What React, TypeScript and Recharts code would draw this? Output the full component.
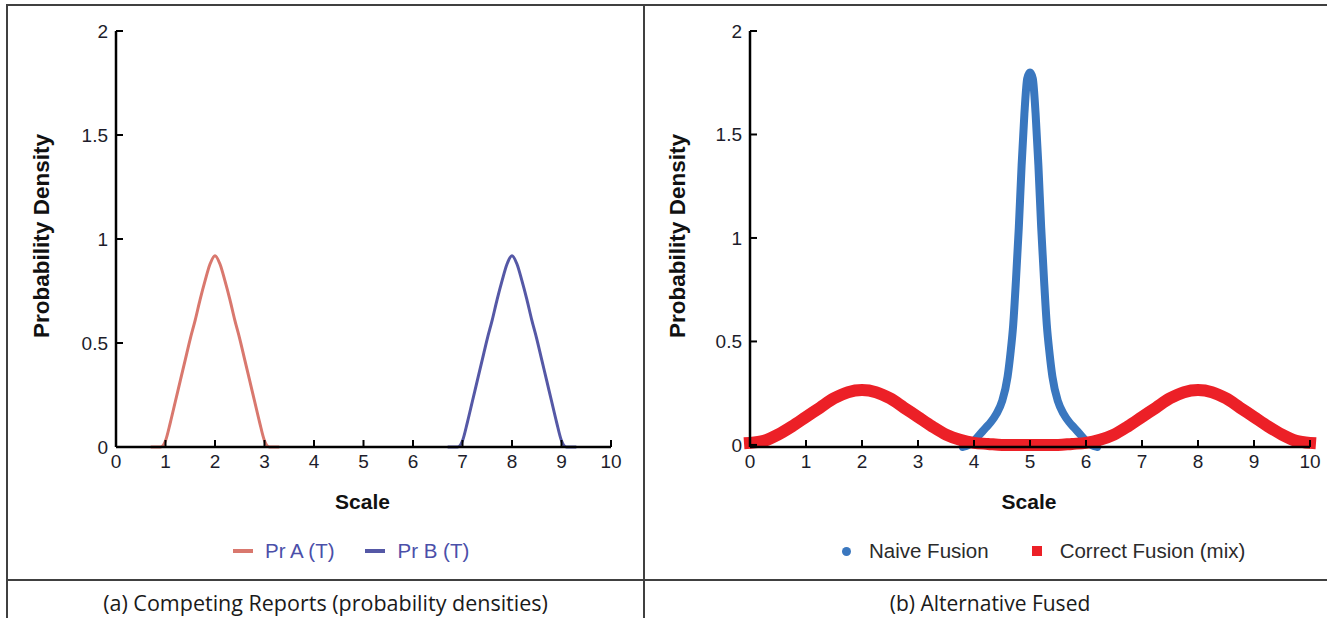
import { LineChart, Line, XAxis, YAxis, Legend } from "recharts";

const FONT = '"Liberation Sans", Arial, Helvetica, sans-serif';
const CAPTION_FONT = '"Open Sans", "Noto Sans", sans-serif';
const BORDER = "#404040";
const TICK_COLOR = "#1d1d2b";

const scaleTicks = [0, 1, 2, 3, 4, 5, 6, 7, 8, 9, 10];
const densityTicks = [0, 0.5, 1, 1.5, 2];

// (a) competing reports
const prAScale = [0.7, 0.8, 0.9, 1.0, 1.1, 1.2, 1.3, 1.4, 1.5, 1.6, 1.7, 1.8, 1.9, 2.0, 2.1, 2.2, 2.3, 2.4, 2.5, 2.6, 2.7, 2.8, 2.9, 3.0, 3.1, 3.2, 3.3];
const prADensity = [0, 0, 0, 0.03, 0.12, 0.22, 0.32, 0.42, 0.52, 0.61, 0.71, 0.8, 0.88, 0.92, 0.88, 0.8, 0.71, 0.61, 0.52, 0.42, 0.32, 0.22, 0.12, 0.03, 0, 0, 0];
const prBScale = [6.7, 6.8, 6.9, 7.0, 7.1, 7.2, 7.3, 7.4, 7.5, 7.6, 7.7, 7.8, 7.9, 8.0, 8.1, 8.2, 8.3, 8.4, 8.5, 8.6, 8.7, 8.8, 8.9, 9.0, 9.1, 9.2, 9.3];
const prBDensity = [0, 0, 0, 0.03, 0.12, 0.22, 0.32, 0.42, 0.52, 0.61, 0.71, 0.8, 0.88, 0.92, 0.88, 0.8, 0.71, 0.61, 0.52, 0.42, 0.32, 0.22, 0.12, 0.03, 0, 0, 0];

// (b) fused results
const naiveScale = [3.8, 3.9, 4.0, 4.1, 4.2, 4.3, 4.4, 4.5, 4.6, 4.65, 4.7, 4.75, 4.8, 4.85, 4.9, 4.95, 5.0, 5.05, 5.1, 5.15, 5.2, 5.25, 5.3, 5.35, 5.4, 5.5, 5.6, 5.7, 5.8, 5.9, 6.0, 6.1, 6.2];
const naiveDensity = [-0.01, 0, 0.02, 0.05, 0.08, 0.11, 0.15, 0.21, 0.33, 0.44, 0.58, 0.8, 1.05, 1.35, 1.6, 1.77, 1.8, 1.77, 1.6, 1.35, 1.05, 0.8, 0.58, 0.44, 0.33, 0.21, 0.15, 0.11, 0.08, 0.05, 0.02, 0, -0.01];
const mixScale = [0, 0.25, 0.5, 0.75, 1, 1.25, 1.5, 1.75, 2, 2.25, 2.5, 2.75, 3, 3.25, 3.5, 3.75, 4, 4.25, 4.5, 4.75, 5, 5.25, 5.5, 5.75, 6, 6.25, 6.5, 6.75, 7, 7.25, 7.5, 7.75, 8, 8.25, 8.5, 8.75, 9, 9.25, 9.5, 9.75, 10];
const mixDensity = [0.01, 0.02, 0.05, 0.09, 0.135, 0.18, 0.225, 0.255, 0.265, 0.255, 0.225, 0.18, 0.135, 0.09, 0.05, 0.025, 0.01, 0.005, 0, 0, 0, 0, 0, 0.005, 0.01, 0.025, 0.05, 0.09, 0.135, 0.18, 0.225, 0.255, 0.265, 0.255, 0.225, 0.18, 0.135, 0.09, 0.05, 0.02, 0.01];

const leftSeries = ["Pr A (T)", "Pr B (T)"];
const rightSeries = ["Naive Fusion", "Correct Fusion (mix)"];

const zip = (xs: number[], ys: number[]) => xs.map((x, i) => ({ x, y: ys[i] }));

const prA = zip(prAScale, prADensity);
const prB = zip(prBScale, prBDensity);
const naive = zip(naiveScale, naiveDensity);
const mix = zip(mixScale, mixDensity);

const axisLine = { stroke: "#000", strokeWidth: 2.5 };
const tickLine = { stroke: "#000", strokeWidth: 2 };
const tickStyle = { fill: TICK_COLOR, fontSize: 19, fontFamily: FONT };

function yTitle(cx: number) {
  return (p: any) => {
    const cy = p.viewBox.y + p.viewBox.height / 2 - 3;
    return (
      <text x={cx} y={cy} transform={`rotate(-90 ${cx} ${cy})`} textAnchor="middle" dominantBaseline="central"
        fontFamily={FONT} fontWeight="bold" fontSize={22.5} fill="#111">
        Probability Density
      </text>
    );
  };
}

function xTitle(p: any) {
  const cx = p.viewBox.x + p.viewBox.width / 2 - 1;
  const cy = p.viewBox.y + 54;
  return (
    <text x={cx} y={cy} textAnchor="middle" dominantBaseline="central" fontFamily={FONT} fontWeight="bold" fontSize={21} fill="#111">
      Scale
    </text>
  );
}

function LegendIcon({ type, color }: { type: string; color: string }) {
  if (type === "circle")
    return <span style={{ width: 9, height: 9, borderRadius: "50%", background: color, marginRight: 18, display: "inline-block" }} />;
  if (type === "square")
    return <span style={{ width: 10, height: 10, background: color, marginRight: 18, display: "inline-block" }} />;
  return <span style={{ width: 20, height: 4, background: color, marginRight: 12, display: "inline-block" }} />;
}

// legend rows keep the series in their declared order
function legendContent(order: string[], textColor: string, gap: number) {
  return (props: any) => {
    const items = [...(props.payload || [])].sort((a: any, b: any) => order.indexOf(a.value) - order.indexOf(b.value));
    return (
      <div style={{ display: "flex", alignItems: "center", fontFamily: FONT, fontSize: 20.5, color: textColor, lineHeight: "20px" }}>
        {items.map((entry: any, i: number) => (
          <div key={i} style={{ display: "flex", alignItems: "center", marginRight: gap }}>
            <LegendIcon type={entry.type} color={entry.color} />
            <span>{entry.value}</span>
          </div>
        ))}
      </div>
    );
  };
}

export default function App() {
  return (
    <div style={{ position: "absolute", left: 0, top: 0, width: 1327, height: 618, background: "#fff", overflow: "hidden" }}>
      {/* left panel */}
      <div style={{ position: "absolute", left: 0, top: 0 }}>
        <LineChart width={643} height={580} margin={{ top: 31, right: 32, bottom: 93, left: 36 }}>
          <XAxis type="number" dataKey="x" domain={[0, 10]} ticks={scaleTicks} interval={0} height={40}
            tickSize={-7} tickMargin={15} axisLine={axisLine} tickLine={tickLine} tick={tickStyle}
            label={{ content: xTitle }} />
          <YAxis type="number" domain={[0, 2]} ticks={densityTicks} interval={0} width={80}
            tickSize={-7} tickMargin={15} axisLine={axisLine} tickLine={tickLine} tick={tickStyle}
            label={{ content: yTitle(41) }} />
          <Legend verticalAlign="middle" align="center" layout="horizontal"
            wrapperStyle={{ top: 541, left: 233, width: 400 }} content={legendContent(leftSeries, "#4b4fa9", 31)} />
          <Line data={prA} dataKey="y" name={leftSeries[0]} type="monotone" stroke="#d9786e" strokeWidth={3}
            dot={false} legendType="plainline" isAnimationActive={false} />
          <Line data={prB} dataKey="y" name={leftSeries[1]} type="monotone" stroke="#5558a6" strokeWidth={3}
            dot={false} legendType="plainline" isAnimationActive={false} />
        </LineChart>
      </div>

      {/* right panel */}
      <div style={{ position: "absolute", left: 645, top: 0 }}>
        <LineChart width={682} height={580} margin={{ top: 31, right: 17, bottom: 93, left: 25 }}>
          <XAxis type="number" dataKey="x" domain={[0, 10]} ticks={scaleTicks} interval={0} height={40}
            tickSize={-7} tickMargin={15} axisLine={axisLine} tickLine={tickLine} tick={tickStyle}
            label={{ content: xTitle }} />
          <YAxis type="number" domain={[0, 2]} ticks={densityTicks} interval={0} width={80}
            tickSize={-7} tickMargin={15} axisLine={axisLine} tickLine={tickLine} tick={tickStyle}
            label={{ content: yTitle(32) }} />
          <Legend verticalAlign="middle" align="center" layout="horizontal"
            wrapperStyle={{ top: 541, left: 197, width: 480 }} content={legendContent(rightSeries, "#2b2b2b", 43)} />
          <Line data={naive} dataKey="y" name={rightSeries[0]} type="monotone" stroke="#3a77bf" strokeWidth={8}
            strokeLinecap="round" strokeLinejoin="round" dot={false} legendType="circle" isAnimationActive={false} />
          <Line data={mix} dataKey="y" name={rightSeries[1]} type="monotone" stroke="#ec2027" strokeWidth={12}
            strokeLinecap="square" strokeLinejoin="round" dot={false} legendType="square" isAnimationActive={false} />
        </LineChart>
      </div>

      {/* table rules */}
      <div style={{ position: "absolute", left: 6, top: 4, width: 1321, height: 2, background: BORDER }} />
      <div style={{ position: "absolute", left: 6, top: 4, width: 2, height: 614, background: BORDER }} />
      <div style={{ position: "absolute", left: 643, top: 4, width: 2, height: 614, background: BORDER }} />
      <div style={{ position: "absolute", left: 6, top: 579, width: 1321, height: 2, background: BORDER }} />

      <div style={{ position: "absolute", left: 8, width: 635, top: 588, lineHeight: "30px", textAlign: "center",
        fontFamily: CAPTION_FONT, fontSize: 21.5, color: "#1a1a1a" }}>
        (a) Competing Reports (probability densities)
      </div>
      <div style={{ position: "absolute", left: 645, width: 690, top: 588, lineHeight: "30px", textAlign: "center",
        fontFamily: CAPTION_FONT, fontSize: 21, color: "#1a1a1a" }}>
        (b) Alternative Fused
      </div>
    </div>
  );
}
